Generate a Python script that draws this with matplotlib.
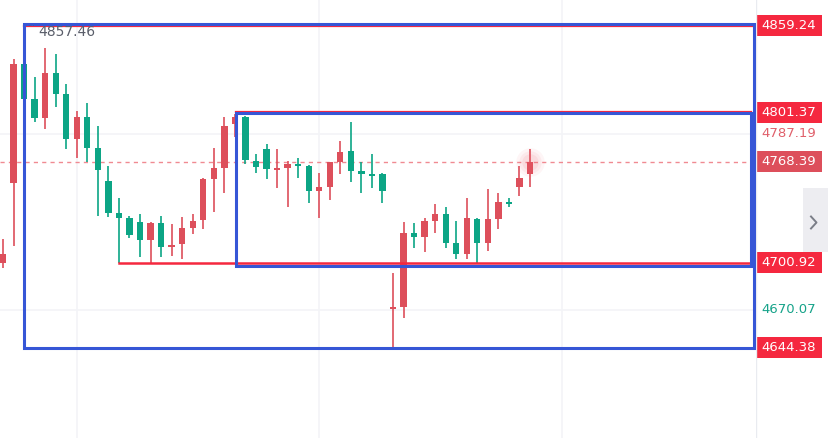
import numpy as np
import matplotlib
matplotlib.use('Agg')
import matplotlib.pyplot as plt
from matplotlib.patches import Rectangle

# candle data
opens = [4701.0, 4754.1, 4833.5, 4810.2, 4797.9, 4827.5, 4813.5, 4783.6, 4798.1, 4777.4,
         4755.6, 4734.0, 4730.7, 4728.2, 4716.2, 4727.3, 4711.7, 4713.5, 4724.4, 4729.3,
         4756.7, 4764.5, 4793.7, 4798.5, 4768.9, 4776.8, 4763.1, 4764.5, 4766.9, 4765.8,
         4749.1, 4751.8, 4768.5, 4775.6, 4762.5, 4760.3, 4760.1, 4670.1, 4671.4, 4720.7,
         4718.4, 4729.1, 4733.3, 4714.0, 4706.6, 4730.0, 4714.4, 4730.0, 4741.1, 4751.8,
         4760.3]
closes = [4706.6, 4833.5, 4810.2, 4797.5, 4827.5, 4813.7, 4783.6, 4798.1, 4777.8, 4762.9,
          4734.4, 4731.1, 4719.5, 4716.2, 4727.3, 4711.7, 4712.8, 4724.0, 4729.1, 4756.7,
          4764.1, 4792.3, 4798.3, 4769.3, 4765.1, 4763.4, 4764.5, 4766.7, 4765.8, 4749.1,
          4751.4, 4768.1, 4774.8, 4762.5, 4760.3, 4758.9, 4749.1, 4671.4, 4720.7, 4718.4,
          4729.1, 4733.3, 4714.4, 4706.6, 4730.7, 4714.4, 4730.0, 4741.4, 4740.2, 4757.4,
          4768.39]
highs = [4716.7, 4836.9, 4835.0, 4824.8, 4844.2, 4840.2, 4820.2, 4802.5, 4807.5, 4792.3,
         4765.8, 4744.0, 4732.2, 4733.4, 4728.2, 4732.2, 4726.7, 4731.7, 4733.4, 4757.4,
         4777.4, 4798.1, 4800.3, 4799.0, 4773.4, 4780.1, 4776.8, 4769.1, 4770.8, 4766.5,
         4760.7, 4768.4, 4782.5, 4795.2, 4768.1, 4773.4, 4760.6, 4693.9, 4728.0, 4727.3,
         4730.7, 4740.0, 4738.0, 4729.1, 4744.0, 4730.7, 4750.0, 4747.4, 4744.0, 4765.6,
         4776.8]
lows = [4697.3, 4712.4, 4809.0, 4795.2, 4790.1, 4805.2, 4776.8, 4771.2, 4768.5, 4732.4,
        4731.7, 4700.9, 4717.7, 4705.0, 4700.0, 4705.0, 4705.7, 4703.3, 4720.0, 4723.3,
        4735.1, 4747.8, 4784.8, 4766.9, 4761.1, 4756.7, 4750.7, 4738.4, 4757.8, 4741.1,
        4730.9, 4742.7, 4760.3, 4755.1, 4747.6, 4750.9, 4741.1, 4644.4, 4664.3, 4710.6,
        4708.4, 4721.1, 4710.6, 4703.3, 4703.3, 4700.9, 4709.0, 4723.3, 4738.4, 4745.8,
        4751.8]

# drawn levels and labels on the price scale
box_levels = [4859.24, 4801.37, 4700.92, 4644.38]
last_price = 4768.39
high_mark = 4787.19
low_mark = 4670.07
top_note = '4857.46'

up_col = '#dd4f5b'
down_col = '#0ca585'
line_red = '#f5283f'
blue = '#3656d6'
grid_col = '#f3f4f7'

ymin, ymax = 4583.94, 4876.47
W, H = 829, 438
pane_w = 756

fig = plt.figure(figsize=(W / 100, H / 100), dpi=100)
ax = fig.add_axes([0, 0, pane_w / W, 1])
ax.set_xlim(-0.285, 71.44)
ax.set_ylim(ymin, ymax)
ax.axis('off')

# faint grid
for gy in [4787.0, 4669.5]:
    ax.axhline(gy, color=grid_col, lw=1.2, zorder=0)
for gx in [7, 30, 53]:
    ax.axvline(gx, color=grid_col, lw=1.2, zorder=0)

x = np.arange(len(opens))
o = np.array(opens)
c = np.array(closes)
cols = [up_col if cc >= oo else down_col for oo, cc in zip(o, c)]
bottoms = np.minimum(o, c)
heights = np.maximum(np.abs(c - o), 1.2)

ax.vlines(x, lows, highs, colors=cols, lw=1.2, zorder=2)
ax.bar(x, heights, width=0.6, bottom=bottoms, color=cols, zorder=3)

# glow on the last candle
for s, a in [(420, 0.06), (260, 0.08), (140, 0.1)]:
    ax.scatter([x[-1]], [last_price], s=s, color='#f06070', alpha=a, lw=0, zorder=4)

# last price dashed line
ax.plot([-0.3, 71.2], [last_price, last_price], ls=(0, (3, 3)), color='#f08a92', lw=1, zorder=1)

# red levels
ax.plot([1.96, 71.23], [box_levels[0]] * 2, color=line_red, lw=1.6, zorder=5)
ax.plot([22.13, 70.97], [box_levels[1]] * 2, color=line_red, lw=1.6, zorder=5)
ax.plot([11.0, 70.97], [box_levels[2]] * 2, color=line_red, lw=1.8, zorder=5)

# blue boxes
ax.add_patch(Rectangle((1.96, box_levels[3] - 0.5), 71.23 - 1.96,
                       box_levels[0] + 1.0 - box_levels[3] + 0.5,
                       fill=False, ec=blue, lw=2.2, zorder=6))
ax.add_patch(Rectangle((22.13, box_levels[2] - 2.0), 70.97 - 22.13,
                       box_levels[1] - 0.6 - box_levels[2] + 2.0,
                       fill=False, ec=blue, lw=2.2, zorder=6))

ax.text(3.32, 4855.0, top_note, fontsize=10, color='#5a5e6a', va='center', ha='left', zorder=7)
ax.text(2.3, 4858.6, '···', fontsize=6, color='#5a5e6a', va='center', ha='left', zorder=7)

# price scale pane
ax2 = fig.add_axes([pane_w / W, 0, (W - pane_w) / W, 1])
ax2.set_xlim(0, W - pane_w)
ax2.set_ylim(ymin, ymax)
ax2.axis('off')
ax2.axvline(0.5, color='#e9ebf0', lw=1)

def tag(v, fc):
    ax2.add_patch(Rectangle((0.5, v - 7.0), 65.5, 14.0, color=fc, lw=0))
    ax2.text(33, v, '%.2f' % v, color='white', fontsize=9.5, ha='center', va='center')

for v in box_levels:
    tag(v, line_red)
tag(last_price, up_col)
ax2.text(33, high_mark, '%.2f' % high_mark, color='#e0606b', fontsize=9.5, ha='center', va='center')
ax2.text(33, low_mark, '%.2f' % low_mark, color='#17a38a', fontsize=9.5, ha='center', va='center')

# scroll button
py = lambda yp: ymax - yp * (ymax - ymin) / H
ax2.add_patch(Rectangle((47, py(252)), 26, py(188) - py(252), color='#ededf1', lw=0))
ax2.plot([55, 60.5, 55], [py(216.5), py(222.5), py(228.5)], color='#7b7e88', lw=1.4)

fig.savefig('out.png', dpi=100)
